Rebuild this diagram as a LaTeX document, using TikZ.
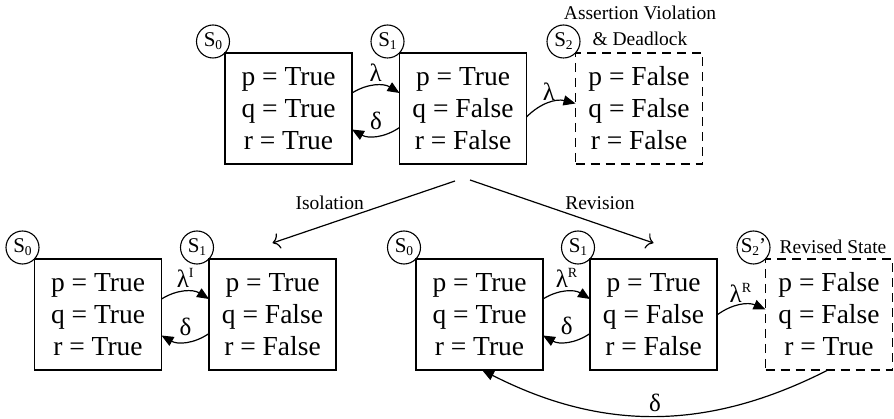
\documentclass[tikz,border=0pt]{standalone}
\usepackage{fontspec}
\setmainfont{Liberation Serif}
\usetikzlibrary{arrows.meta,calc}
\newcommand\stsub[1]{\raisebox{-3pt}{\fontsize{13.5}{13.5}\selectfont #1}}
\newcommand\stsup[1]{\raisebox{10pt}{\fontsize{14}{14}\selectfont #1}}
\begin{document}
\begin{tikzpicture}[x=1pt,y=1pt,
  statebox/.style={draw, line width=1.3pt, minimum width=127pt, minimum height=111pt, inner sep=0pt, outer sep=0pt, align=center, font=\fontsize{27.5}{32}\selectfont},
  dashedbox/.style={statebox, dash pattern=on 9pt off 6pt},
  statecirc/.style={draw, circle, line width=1.1pt, minimum size=33pt, inner sep=0pt, font=\fontsize{21}{21}\selectfont},
  lbl/.style={font=\fontsize{19.5}{26}\selectfont, align=center, inner sep=0pt},
  greek/.style={font=\fontsize{25}{25}\selectfont, inner sep=1pt},
  trans/.style={line width=1.2pt, -{Triangle[length=12pt,width=10pt]}},
  op/.style={line width=1.2pt, -{To[length=7pt,width=16pt]}}
]
\useasboundingbox (0,0) rectangle (894,-419);

% top row
\node[statebox] (tS0) at (288.5,-108.5) {p = True\\q = True\\r = True};
\node[statebox] (tS1) at (463,-108.5) {p = True\\q = False\\r = False};
\node[dashedbox] (tS2) at (639,-108.5) {p = False\\q = False\\r = False};
\node[statecirc] (ctS0) at ($(tS0.north west)+(-12,11.5)$) {S\stsub{0}};
\node[statecirc] (ctS1) at ($(tS1.north west)+(-12,11.5)$) {S\stsub{1}};
\node[statecirc] (ctS2) at ($(tS2.north west)+(-12,11.5)$) {S\stsub{2}};
\node[lbl] (assert) at ($(tS2.north)+(1,27)$) {Assertion Violation\\\& Deadlock};

\draw[trans] ([yshift=15.5pt]tS0.east) to[bend left=32] node[greek, above=3pt]{λ} ([yshift=15.5pt]tS1.west);
\draw[trans] ([yshift=-19pt]tS1.west) to[bend left=32] node[greek, above=5pt]{δ} ([yshift=-21pt]tS0.east);
\draw[trans] ([yshift=-8.5pt]tS1.east) to[bend left=30] node[greek, above=1pt]{λ} ([yshift=5pt]tS2.west);

% bottom left
\node[statebox] (lS0) at (98,-314.5) {p = True\\q = True\\r = True};
\node[statebox] (lS1) at (272.5,-314.5) {p = True\\q = False\\r = False};
\node[statecirc] (clS0) at ($(lS0.north west)+(-12,11.5)$) {S\stsub{0}};
\node[statecirc] (clS1) at ($(lS1.north west)+(-12,11.5)$) {S\stsub{1}};
\draw[trans] ([yshift=15.5pt]lS0.east) to[bend left=32] node[greek, above=3pt]{λ\stsup{I}} ([yshift=15.5pt]lS1.west);
\draw[trans] ([yshift=-19pt]lS1.west) to[bend left=32] node[greek, above=5pt]{δ} ([yshift=-21pt]lS0.east);

% bottom right
\node[statebox] (rS0) at (479.5,-314.5) {p = True\\q = True\\r = True};
\node[statebox] (rS1) at (653.5,-314.5) {p = True\\q = False\\r = False};
\node[dashedbox] (rS2) at (829,-314.5) {p = False\\q = False\\r = True};
\node[statecirc] (crS0) at ($(rS0.north west)+(-12,11.5)$) {S\stsub{0}};
\node[statecirc] (crS1) at ($(rS1.north west)+(-12,11.5)$) {S\stsub{1}};
\node[statecirc] (crS2) at ($(rS2.north west)+(-12,11.5)$) {S\stsub{2}’};
\node[lbl] (revised) at ($(rS2.north)+(4,12)$) {Revised State};
\draw[trans] ([yshift=15.5pt]rS0.east) to[bend left=32] node[greek, above=3pt]{λ\stsup{R}} ([yshift=15.5pt]rS1.west);
\draw[trans] ([yshift=-19pt]rS1.west) to[bend left=32] node[greek, above=5pt]{δ} ([yshift=-21pt]rS0.east);
\draw[trans] ([yshift=-0.5pt]rS1.east) to[bend left=30] node[greek, above=1pt]{λ\stsup{R}} ([yshift=5pt]rS2.west);
\draw[trans] ([xshift=-1pt]rS2.south) to[bend left=27] node[greek, above=3pt]{δ} ([xshift=2.5pt]rS0.south);

% isolation / revision
\coordinate (isoA) at ($(tS1.south)+(-8,-17)$);
\coordinate (isoB) at ($(lS1.north)+(0,16)$);
\coordinate (revA) at ($(tS1.south)+(7,-16)$);
\coordinate (revB) at ($(rS1.north)+(0,16)$);
\draw[op] (isoA) -- node[lbl, pos=0.687, yshift=20.6pt]{Isolation} (isoB);
\draw[op] (revA) -- node[lbl, pos=0.708, yshift=21.6pt]{Revision} (revB);
\end{tikzpicture}
\end{document}
